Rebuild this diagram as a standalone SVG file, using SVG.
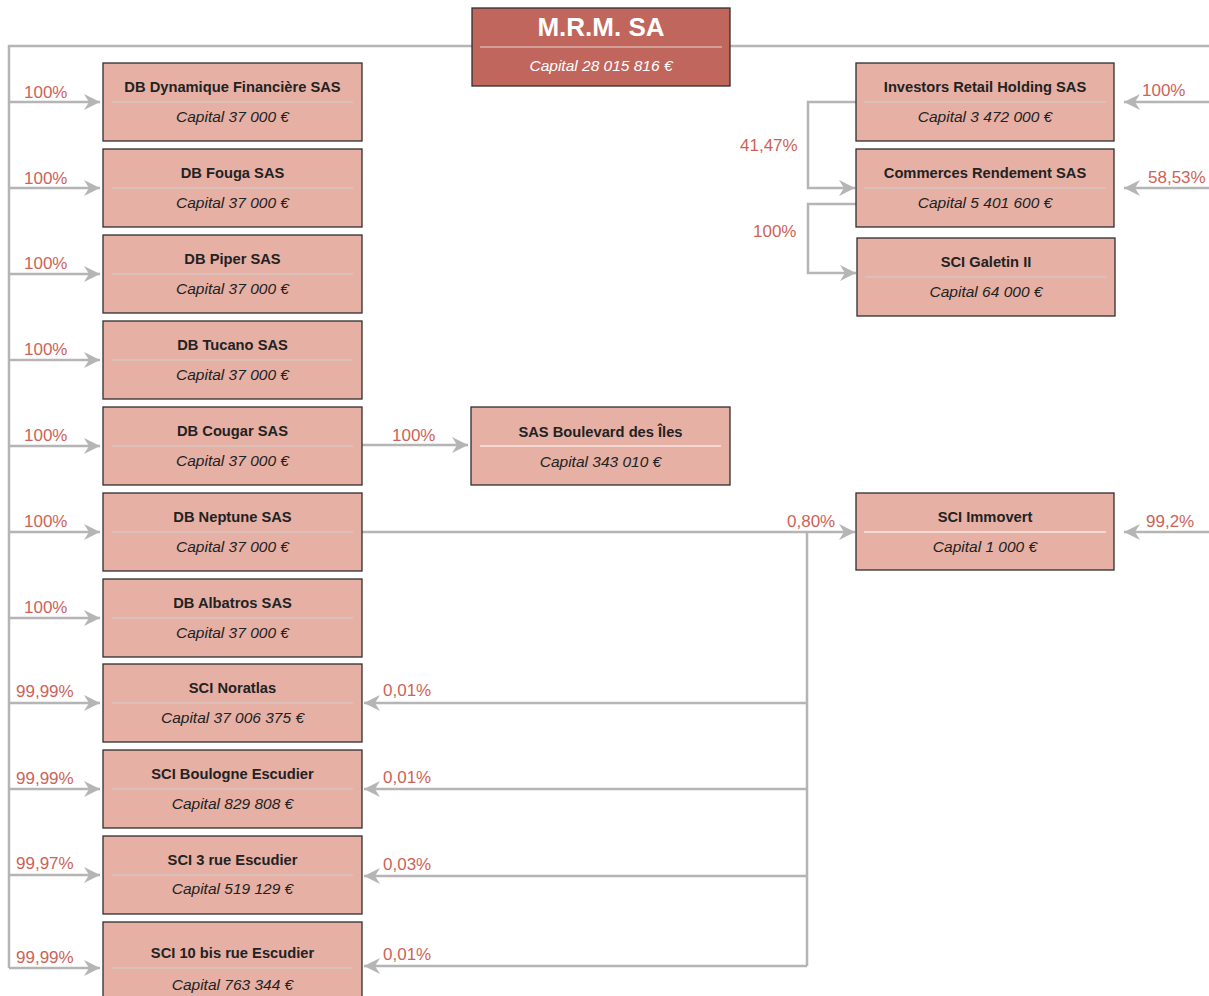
<svg xmlns="http://www.w3.org/2000/svg" width="1209" height="996" viewBox="0 0 1209 996">
<style>
.box{fill:#e6b0a5;stroke:#2e2e2e;stroke-width:1.3}
.main{fill:#c1665c;stroke:#2e2e2e;stroke-width:1.3}
.t{font-family:"Liberation Sans",Arial,sans-serif;font-weight:bold;font-size:14.7px;fill:#222;text-anchor:middle}
.c{font-family:"Liberation Sans",Arial,sans-serif;font-style:italic;font-size:15.5px;fill:#222;text-anchor:middle}
.div{stroke:#cfcfcf;stroke-width:1.2}
.divw{stroke:#ffffff;stroke-width:1.2}
.lbl{font-family:"Liberation Sans",Arial,sans-serif;font-size:17px;fill:#cd6358}
.ln{fill:none;stroke:#b5b5b5;stroke-width:2.5}
</style>
<defs>
<marker id="arr" markerUnits="userSpaceOnUse" markerWidth="18" markerHeight="18" viewBox="0 0 18 18" refX="16" refY="9" orient="auto">
<path d="M0,1 L16,9 L0,17 L5,9 z" fill="#b5b5b5"/>
</marker>
</defs>
<g id="connectors">
<path class="ln" d="M9,968 L9,46 L1209,46"/>
<path class="ln" d="M9,102 H100" marker-end="url(#arr)"/>
<path class="ln" d="M9,188 H100" marker-end="url(#arr)"/>
<path class="ln" d="M9,274 H100" marker-end="url(#arr)"/>
<path class="ln" d="M9,360 H100" marker-end="url(#arr)"/>
<path class="ln" d="M9,446 H100" marker-end="url(#arr)"/>
<path class="ln" d="M9,532 H100" marker-end="url(#arr)"/>
<path class="ln" d="M9,618 H100" marker-end="url(#arr)"/>
<path class="ln" d="M9,703 H100" marker-end="url(#arr)"/>
<path class="ln" d="M9,789 H100" marker-end="url(#arr)"/>
<path class="ln" d="M9,875 H100" marker-end="url(#arr)"/>
<path class="ln" d="M9,968 H100" marker-end="url(#arr)"/>
<path class="ln" d="M362,445 H468" marker-end="url(#arr)"/>
<path class="ln" d="M352,532 H855" marker-end="url(#arr)"/>
<path class="ln" d="M807,532 V966"/>
<path class="ln" d="M807,703 H364" marker-end="url(#arr)"/>
<path class="ln" d="M807,789 H364" marker-end="url(#arr)"/>
<path class="ln" d="M807,876 H364" marker-end="url(#arr)"/>
<path class="ln" d="M807,966 H364" marker-end="url(#arr)"/>
<path class="ln" d="M856,102 H808 V188 H855" marker-end="url(#arr)"/>
<path class="ln" d="M856,204 H808 V273 H856" marker-end="url(#arr)"/>
<path class="ln" d="M1209,102 H1124" marker-end="url(#arr)"/>
<path class="ln" d="M1209,188 H1124" marker-end="url(#arr)"/>
<path class="ln" d="M1209,532 H1124" marker-end="url(#arr)"/>
<text class="lbl" x="24" y="98">100%</text>
<text class="lbl" x="24" y="184">100%</text>
<text class="lbl" x="24" y="269">100%</text>
<text class="lbl" x="24" y="355">100%</text>
<text class="lbl" x="24" y="441">100%</text>
<text class="lbl" x="24" y="527">100%</text>
<text class="lbl" x="24" y="613">100%</text>
<text class="lbl" x="16" y="697">99,99%</text>
<text class="lbl" x="16" y="784">99,99%</text>
<text class="lbl" x="16" y="869">99,97%</text>
<text class="lbl" x="16" y="963">99,99%</text>
<text class="lbl" x="392" y="441">100%</text>
<text class="lbl" x="787" y="527">0,80%</text>
<text class="lbl" x="383" y="696">0,01%</text>
<text class="lbl" x="383" y="783">0,01%</text>
<text class="lbl" x="383" y="870">0,03%</text>
<text class="lbl" x="383" y="960">0,01%</text>
<text class="lbl" x="740" y="151">41,47%</text>
<text class="lbl" x="753" y="237">100%</text>
<text class="lbl" x="1142" y="96">100%</text>
<text class="lbl" x="1148" y="183">58,53%</text>
<text class="lbl" x="1146" y="527">99,2%</text>
</g>
<g id="mrm">
<rect class="main" x="472" y="8" width="258" height="78"/>
<text x="601" y="36" style="font-family:'Liberation Sans',Arial,sans-serif;font-weight:bold;font-size:26px;fill:#fff;text-anchor:middle">M.R.M. SA</text>
<line x1="480" y1="47" x2="722" y2="47" stroke="#e8d8d6" stroke-width="1.2"/>
<text x="601" y="71" class="c" style="fill:#fff">Capital 28 015 816 €</text>
</g>
<g id="db-dynamique">
<rect class="box" x="103" y="63" width="259" height="78"/>
<text class="t" x="232.5" y="92">DB Dynamique Financière SAS</text>
<line class="div" x1="112" y1="102" x2="353" y2="102"/>
<text class="c" x="232.5" y="122">Capital 37 000 €</text>
</g>
<g id="db-fouga">
<rect class="box" x="103" y="149" width="259" height="78"/>
<text class="t" x="232.5" y="178">DB Fouga SAS</text>
<line class="div" x1="112" y1="188" x2="353" y2="188"/>
<text class="c" x="232.5" y="208">Capital 37 000 €</text>
</g>
<g id="db-piper">
<rect class="box" x="103" y="235" width="259" height="78"/>
<text class="t" x="232.5" y="264">DB Piper SAS</text>
<line class="div" x1="112" y1="274" x2="353" y2="274"/>
<text class="c" x="232.5" y="294">Capital 37 000 €</text>
</g>
<g id="db-tucano">
<rect class="box" x="103" y="321" width="259" height="78"/>
<text class="t" x="232.5" y="350">DB Tucano SAS</text>
<line class="div" x1="112" y1="360" x2="353" y2="360"/>
<text class="c" x="232.5" y="380">Capital 37 000 €</text>
</g>
<g id="db-cougar">
<rect class="box" x="103" y="407" width="259" height="78"/>
<text class="t" x="232.5" y="436">DB Cougar SAS</text>
<line class="div" x1="112" y1="446" x2="353" y2="446"/>
<text class="c" x="232.5" y="466">Capital 37 000 €</text>
</g>
<g id="db-neptune">
<rect class="box" x="103" y="493" width="259" height="78"/>
<text class="t" x="232.5" y="522">DB Neptune SAS</text>
<line class="div" x1="112" y1="532" x2="353" y2="532"/>
<text class="c" x="232.5" y="552">Capital 37 000 €</text>
</g>
<g id="db-albatros">
<rect class="box" x="103" y="579" width="259" height="78"/>
<text class="t" x="232.5" y="608">DB Albatros SAS</text>
<line class="div" x1="112" y1="618" x2="353" y2="618"/>
<text class="c" x="232.5" y="638">Capital 37 000 €</text>
</g>
<g id="sci-noratlas">
<rect class="box" x="103" y="664" width="259" height="78"/>
<text class="t" x="232.5" y="693">SCI Noratlas</text>
<line class="div" x1="112" y1="703" x2="353" y2="703"/>
<text class="c" x="232.5" y="723">Capital 37 006 375 €</text>
</g>
<g id="sci-boulogne">
<rect class="box" x="103" y="750" width="259" height="78"/>
<text class="t" x="232.5" y="779">SCI Boulogne Escudier</text>
<line class="div" x1="112" y1="789" x2="353" y2="789"/>
<text class="c" x="232.5" y="809">Capital 829 808 €</text>
</g>
<g id="sci-3rue">
<rect class="box" x="103" y="836" width="259" height="78"/>
<text class="t" x="232.5" y="865">SCI 3 rue Escudier</text>
<line class="div" x1="112" y1="875" x2="353" y2="875"/>
<text class="c" x="232.5" y="894">Capital 519 129 €</text>
</g>
<g id="sci-10bis">
<rect class="box" x="103" y="922" width="259" height="84"/>
<text class="t" x="232.5" y="958">SCI 10 bis rue Escudier</text>
<line class="div" x1="112" y1="968" x2="353" y2="968"/>
<text class="c" x="232.5" y="990">Capital 763 344 €</text>
</g>
<g id="sas-boulevard">
<rect class="box" x="471" y="407" width="259" height="78"/>
<text class="t" x="600.5" y="437">SAS Boulevard des Îles</text>
<line class="divw" x1="480" y1="446" x2="721" y2="446"/>
<text class="c" x="600.5" y="467">Capital 343 010 €</text>
</g>
<g id="investors">
<rect class="box" x="856" y="63" width="258" height="78"/>
<text class="t" x="985" y="92">Investors Retail Holding SAS</text>
<line class="div" x1="864" y1="102" x2="1106" y2="102"/>
<text class="c" x="985" y="122">Capital 3 472 000 €</text>
</g>
<g id="commerces">
<rect class="box" x="856" y="149" width="258" height="78"/>
<text class="t" x="985" y="178">Commerces Rendement SAS</text>
<line class="div" x1="864" y1="188" x2="1106" y2="188"/>
<text class="c" x="985" y="208">Capital 5 401 600 €</text>
</g>
<g id="galetin">
<rect class="box" x="857" y="238" width="258" height="78"/>
<text class="t" x="986" y="267">SCI Galetin II</text>
<line class="div" x1="865" y1="277" x2="1107" y2="277"/>
<text class="c" x="986" y="297">Capital 64 000 €</text>
</g>
<g id="immovert">
<rect class="box" x="856" y="493" width="258" height="77"/>
<text class="t" x="985" y="522">SCI Immovert</text>
<line class="divw" x1="864" y1="532" x2="1106" y2="532"/>
<text class="c" x="985" y="552">Capital 1 000 €</text>
</g>
</svg>
